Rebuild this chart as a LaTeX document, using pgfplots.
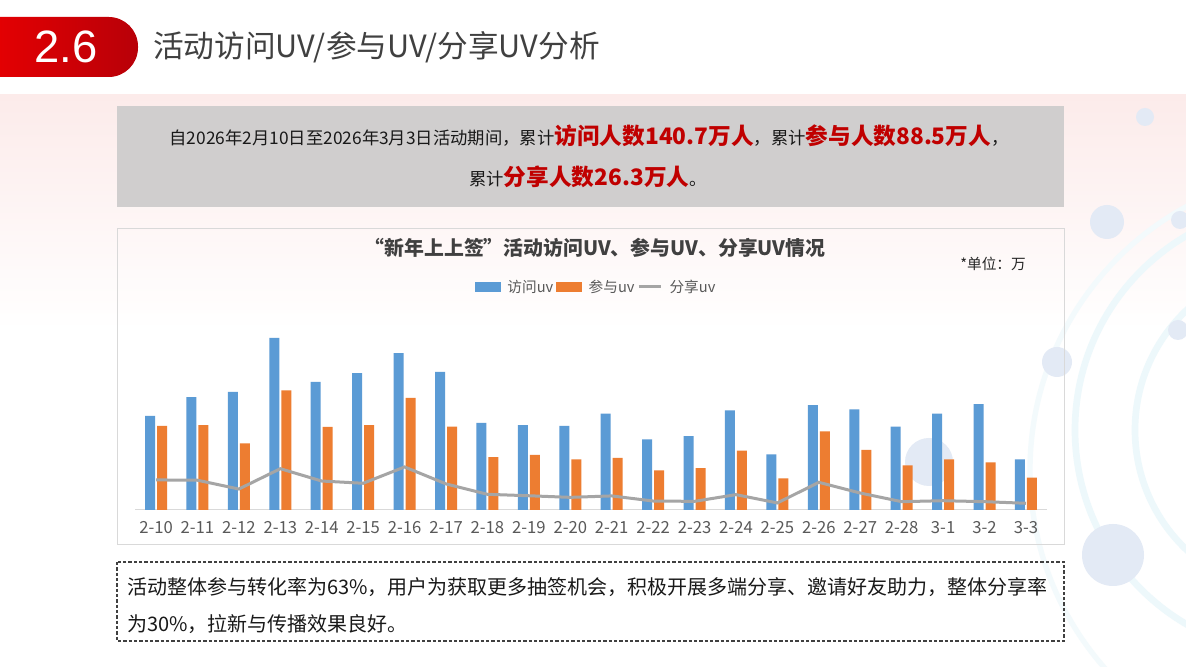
\documentclass[border=0pt]{standalone}
\usepackage{fontspec}
\setmainfont{Noto Sans CJK SC}
\newfontfamily\lib{Liberation Sans}
\usepackage{pgfplots}
\usepackage{pgfplotstable}
\pgfplotsset{compat=1.18}
\definecolor{cblue}{HTML}{5B9BD5}
\definecolor{corange}{HTML}{ED7D31}
\definecolor{cgray}{HTML}{A5A5A5}
\definecolor{cred}{HTML}{C00000}
\definecolor{boxgray}{HTML}{D0CECE}
\definecolor{txt}{HTML}{404040}
\definecolor{txttwo}{HTML}{595959}
\definecolor{frame}{HTML}{D9D9D9}
\definecolor{arcc}{HTML}{EDF8FB}
\definecolor{dotc}{HTML}{E3EAF5}
\definecolor{pinkbg}{HTML}{FCEBEA}
\definecolor{redL}{HTML}{F50000}
\definecolor{redR}{HTML}{B80008}
\newcommand{\blk}[1]{{\fontsize{13}{13}\selectfont\color{black!90}#1}}
\newcommand{\rd}[1]{{\fontsize{17}{17}\selectfont\bfseries\color{cred}#1}}
\pgfplotstableread{
x blue orange share
0 5.89 5.25 1.88
1 7.06 5.31 1.86
2 7.38 4.17 1.31
3 10.75 7.48 2.58
4 8.00 5.19 1.81
5 8.56 5.31 1.67
6 9.81 7.00 2.69
7 8.63 5.21 1.63
8 5.44 3.31 0.98
9 5.31 3.44 0.89
10 5.25 3.17 0.79
11 6.02 3.25 0.88
12 4.42 2.48 0.56
13 4.61 2.61 0.54
14 6.23 3.71 0.96
15 3.48 1.98 0.44
16 6.56 4.92 1.73
17 6.29 3.75 1.06
18 5.21 2.79 0.52
19 6.02 3.17 0.58
20 6.61 2.98 0.52
21 3.17 2.02 0.42
}\datatable
\begin{document}
\begin{tikzpicture}[x=0.75pt,y=0.75pt]
\useasboundingbox (0,0) rectangle (1186,667);
\fill[white] (0,0) rectangle (1186,667);
\shade[top color=pinkbg, bottom color=white] (0,337) rectangle (1186,572);
\begin{scope}[shift={(0,667)},yscale=-1]
  % decorative arcs and dots
  \draw[arcc, line width=5pt] (1300,430) circle [radius=165];
  \draw[arcc, line width=5pt] (1300,430) circle [radius=225];
  \draw[arcc!70, line width=4pt] (1330,470) circle [radius=300];
  \fill[dotc] (1145,117) circle [radius=9];
  \fill[dotc] (1107,222) circle [radius=17];
  \fill[dotc] (1180,220) circle [radius=9];
  \fill[dotc] (1178,330) circle [radius=10];
  \fill[dotc] (1057,362) circle [radius=15];
  \fill[dotc] (1113,555) circle [radius=31];
  \fill[dotc] (929,462) circle [radius=24];
  % header badge
  \shade[left color=redL, right color=redR, rounded corners=22pt] (-60,17) rectangle (138,77);
  \node[white, font=\lib\fontsize{34}{34}\selectfont, inner sep=0] at (66,47) {2.6};
  \node[anchor=west, txt, font=\fontsize{23}{23}\selectfont, inner sep=0] at (153,47) {活动访问UV/参与UV/分享UV分析};
  % summary box
  \fill[boxgray] (117,106) rectangle (1064,207);
  \node[anchor=base, inner sep=0] at (589,145) {\blk{自2026年2月10日至2026年3月3日活动期间，累计}\rd{访问人数140.7万人}\blk{，累计}\rd{参与人数88.5万人}\blk{，}};
  \node[anchor=base, inner sep=0] at (588,186) {\blk{累计}\rd{分享人数26.3万人}\blk{。}};
  % chart frame
  \draw[frame, line width=0.75pt] (117,229) rectangle (1064,545);
  \node[anchor=base, inner sep=0, txt, font=\fontsize{14.9}{14.9}\selectfont\bfseries] at (595,256) {“新年上上签”活动访问UV、参与UV、分享UV情况};
  \node[anchor=base west, inner sep=0, black!85, font=\fontsize{11}{11}\selectfont] at (960,270) {*单位：万};
  % bottom note
  \draw[txt, line width=0.9pt, dash pattern=on 2.5pt off 1.5pt] (117,562) rectangle (1064,641);
  \node[anchor=base west, inner sep=0, black!90, font=\fontsize{15}{15}\selectfont] at (127,595) {活动整体参与转化率为63\%，用户为获取更多抽签机会，积极开展多端分享、邀请好友助力，整体分享率};
  \node[anchor=base west, inner sep=0, black!90, font=\fontsize{15}{15}\selectfont] at (127,632) {为30\%，拉新与传播效果良好。};
\end{scope}
\begin{axis}[
  at={(101.5pt,117.75pt)}, anchor=south west,
  scale only axis, width=683.5pt, height=135pt,
  xmin=-0.5, xmax=21.5, ymin=0, ymax=11.25,
  axis x line=bottom, axis y line=none,
  x axis line style={draw=frame, line width=0.75pt, -},
  ytick=\empty,
  xtick={0,...,21},
  xticklabels={2-10,2-11,2-12,2-13,2-14,2-15,2-16,2-17,2-18,2-19,2-20,2-21,2-22,2-23,2-24,2-25,2-26,2-27,2-28,3-1,3-2,3-3},
  major tick length=0pt,
  xticklabel style={font=\fontsize{12.5}{12.5}\selectfont, text=txttwo, yshift=-5pt},
  legend columns=3,
  legend style={at={(0.506,1.239)}, anchor=center, draw=none, fill=none,
    font=\fontsize{11}{11}\selectfont, text=txttwo,
    /tikz/every odd column/.append style={column sep=3pt}},
  clip=false,
]
\addplot[ybar, bar width=7.5pt, bar shift=-4.5pt, fill=cblue, draw=none,
  legend image code/.code={\fill[cblue] (0pt,-3.75pt) rectangle (19.5pt,3.75pt);}]
  table[x=x, y=blue] {\datatable};
\addlegendentry{访问uv}
\addplot[ybar, bar width=7.5pt, bar shift=4.5pt, fill=corange, draw=none,
  legend image code/.code={\fill[corange] (0pt,-3.75pt) rectangle (19.5pt,3.75pt);}]
  table[x=x, y=orange] {\datatable};
\addlegendentry{参与uv}
\addplot[cgray, line width=2.25pt, sharp plot, mark=none,
  legend image code/.code={\draw[cgray, line width=2.25pt] (0pt,0pt) -- (17pt,0pt);}]
  table[x=x, y=share] {\datatable};
\addlegendentry{分享uv}
\end{axis}
\end{tikzpicture}
\end{document}
